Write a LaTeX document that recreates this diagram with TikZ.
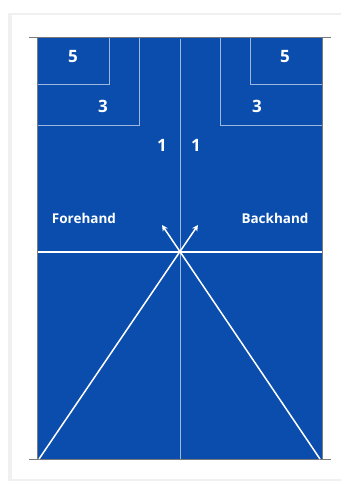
\documentclass[tikz,border=0pt]{standalone}
\usepackage{fontspec}
\setmainfont{Open Sans}
\usetikzlibrary{arrows.meta}
\definecolor{court}{HTML}{0A4DAD}
\definecolor{edge}{HTML}{7A7A7A}
\begin{document}
\begin{tikzpicture}[x=1pt,y=1pt,
  thinline/.style={draw=white,draw opacity=0.6,line width=0.9pt},
  thickline/.style={draw=white,line width=2pt},
  lbl/.style={text=white,font=\bfseries\fontsize{17}{17}\selectfont,inner sep=0pt},
  side/.style={text=white,font=\bfseries\fontsize{13.5}{13.5}\selectfont,inner sep=0pt},
  arr/.style={draw=white,line width=1.5pt,-{Stealth[length=6pt,width=6pt]}}]
\useasboundingbox (0,0) rectangle (343,484);
% card with shadow
\fill[black!14] (9,4) rectangle (340,470);
\fill[black!6] (8,3) rectangle (341,471);
\fill[white] (11.5,5) rectangle (343,469);
% court
\fill[court] (37,24) rectangle (322,446);
\draw[edge,line width=0.8pt] (37,24) -- (37,446);
\draw[edge,line width=0.8pt] (322,24) -- (322,446);
\draw[edge,line width=1pt] (29,446) -- (331,446);
\draw[edge,line width=1pt] (29,24) -- (331,24);
% coordinates
\coordinate (c) at (180,232);
\coordinate (top) at (180,445);
\coordinate (bot) at (180,25);
\coordinate (hl) at (37.5,232);
\coordinate (hr) at (321.5,232);
\coordinate (bl) at (39,25);
\coordinate (br) at (320,25);
\coordinate (tipr) at (198,259);
\coordinate (tipl) at (162,259);
% zones
\draw[thinline] (top) -- (bot);
\draw[thinline] (109,445.5) -- (109,400) -- (37.5,400);
\draw[thinline] (139,445.5) -- (139,359) -- (37.5,359);
\draw[thinline] (250,445.5) -- (250,400) -- (321.5,400);
\draw[thinline] (220,445.5) -- (220,359) -- (321.5,359);
% baseline and diagonals
\draw[thickline] (hl) -- (hr);
\draw[arr] (bl) -- (tipr);
\draw[arr] (br) -- (tipl);
% labels
\node[lbl] (l5) at (73,427) {5};
\node[lbl] (l3) at (103,378) {3};
\node[lbl] (r5) at (285,427) {5};
\node[lbl] (r3) at (257,378) {3};
\node[lbl] (l1) at (162,339) {1};
\node[lbl] (r1) at (196,339) {1};
\node[side] (fh) at (84,266) {Forehand};
\node[side] (bh) at (275,266) {Backhand};
\end{tikzpicture}
\end{document}
